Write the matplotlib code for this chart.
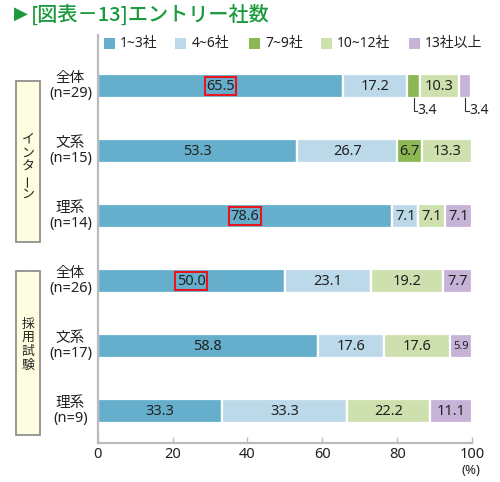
"""
Entry count chart (stacked horizontal bars)
"""
import matplotlib
matplotlib.use('Agg')
import matplotlib.pyplot as plt
from matplotlib.patches import Rectangle
import numpy as np

# ###
# data
# ###
CATEGORIES = ['1~3社', '4~6社', '7~9社', '10~12社', '13社以上']
ROW_NAMES  = ['全体', '文系', '理系', '全体', '文系', '理系']
ROW_N      = [29, 15, 14, 26, 17, 9]
GROUPS     = ['インターン', '採用試験']

V_1_3   = [65.5, 53.3, 78.6, 50.0, 58.8, 33.3]
V_4_6   = [17.2, 26.7, 7.1, 23.1, 17.6, 33.3]
V_7_9   = [3.4, 6.7, 0.0, 0.0, 0.0, 0.0]
V_10_12 = [10.3, 13.3, 7.1, 19.2, 17.6, 22.2]
V_13    = [3.4, 0.0, 7.1, 7.7, 5.9, 11.1]

HIGHLIGHT = [(0, 0), (2, 0), (3, 0)]     # (row, category) in red box
OUTSIDE   = [(0, 2), (0, 4)]             # labels under the bar
SMALL     = [(4, 4)]                     # narrow label

X_TICKS = [0, 20, 40, 60, 80, 100]

# ###
# figure variables
# ###
COLOR_LIST  = ['#66afcc', '#bcd9ea', '#8cb853', '#cde0ad', '#c8b3d8']
TITLE_COLOR = '#1a9a3c'
AXIS_COLOR  = '#bbbbbb'
TEXT_COLOR  = '#222222'
BAR_HEIGHT  = 0.36
FONT        = ['Noto Sans', 'Noto Sans CJK JP', 'DejaVu Sans']
W, H        = 500, 482

plt.rcParams['font.family'] = FONT


def fx(px):
    return px / W


def fy(py):
    return (H - py) / H


def main_function():
    data = [V_1_3, V_4_6, V_7_9, V_10_12, V_13]
    rows = np.arange(len(ROW_NAMES))

    fig = plt.figure(figsize=(W / 100, H / 100), dpi=100, facecolor='w')
    ax = fig.add_axes([fx(97.7), fy(443), fx(472) - fx(97.7), fy(35) - fy(443)])

    # bars
    left = np.zeros(len(rows))
    for ci, vals in enumerate(data):
        vals = np.array(vals)
        ax.barh(rows, vals, left=left, height=BAR_HEIGHT, color=COLOR_LIST[ci],
                edgecolor='white', linewidth=1.6)
        for ri in rows:
            v = vals[ri]
            if v <= 0:
                continue
            cx = left[ri] + v / 2
            txt = '{0:.1f}'.format(v)
            if (ri, ci) in OUTSIDE:
                yb = ri + BAR_HEIGHT / 2
                ax.plot([cx, cx, cx + 1.0], [yb, yb + 0.2, yb + 0.2],
                        color='#333333', linewidth=0.8, solid_joinstyle='miter')
                ax.text(cx + 1.1, yb + 0.2, txt, ha='left', va='center',
                        fontsize=10, color=TEXT_COLOR)
                continue
            kw = {}
            if (ri, ci) in HIGHLIGHT:
                kw['bbox'] = dict(boxstyle='square,pad=0.1', fc='none', ec='#e8141e', lw=1.5)
            fs = 8 if (ri, ci) in SMALL else 10.5
            ax.text(cx, ri, txt, ha='center', va='center', fontsize=fs,
                    color=TEXT_COLOR, **kw)
        left = left + vals

    # axes setting
    ax.set_xlim(0, 100)
    ax.set_ylim(5.49, -0.785)
    ax.set_yticks([])
    ax.set_xticks(X_TICKS)
    ax.set_xticklabels([str(t) for t in X_TICKS])
    ax.tick_params(axis='x', direction='in', length=4, width=1, color=AXIS_COLOR,
                   labelsize=10.5, pad=3, labelcolor=TEXT_COLOR)
    for s in ['top', 'right']:
        ax.spines[s].set_visible(False)
    for s in ['left', 'bottom']:
        ax.spines[s].set_color(AXIS_COLOR)
        ax.spines[s].set_linewidth(1.6)
    fig.text(fx(471), fy(470), '(%)', ha='center', va='center', fontsize=9.5, color=TEXT_COLOR)

    # row labels
    for ri in rows:
        ax.text(-7.3, ri, '{0}\n(n={1})'.format(ROW_NAMES[ri], ROW_N[ri]),
                ha='center', va='center', fontsize=10.5, linespacing=1.0,
                color=TEXT_COLOR, clip_on=False)

    # group boxes (top, bottom, text centre in pixels)
    boxes = [(81, 242, 167), (271, 435, 345)]
    for gi, (y0, y1, yc) in enumerate(boxes):
        fig.add_artist(Rectangle((fx(16), fy(y1)), fx(40) - fx(16), fy(y0) - fy(y1),
                                 transform=fig.transFigure, fc='#fffde0', ec='#888888', lw=1.2))
        chars = GROUPS[gi]
        step = 13.8
        ystart = yc - step * (len(chars) - 1) / 2
        for k, ch in enumerate(chars):
            rot = 90 if ch == 'ー' else 0
            fig.text(fx(28), fy(ystart + k * step), ch, ha='center', va='center',
                     fontsize=9.3, rotation=rot, color=TEXT_COLOR,
                     family=['Noto Sans CJK JP', 'DejaVu Sans'])

    # legend
    legend_x = [(104, 120), (175, 192), (249, 265), (321, 337), (409, 425)]
    for ci, (sx, tx) in enumerate(legend_x):
        fig.add_artist(Rectangle((fx(sx), fy(49)), fx(11), fy(38) - fy(49),
                                 transform=fig.transFigure, fc=COLOR_LIST[ci], ec='none'))
        fig.text(fx(tx), fy(43.5), CATEGORIES[ci], ha='left', va='center',
                 fontsize=10, color=TEXT_COLOR)

    # title
    fig.text(fx(14), fy(14), '▶', ha='left', va='center', fontsize=13,
             color=TITLE_COLOR, family=['DejaVu Sans'])
    fig.text(fx(31), fy(14), '[図表－13]エントリー社数', ha='left', va='center',
             fontsize=14.5, fontweight='medium', color=TITLE_COLOR,
             family=['Noto Sans CJK JP', 'DejaVu Sans'])

    plt.savefig('out.png', dpi=100)
    plt.close(fig)


if __name__ == '__main__':
    main_function()
